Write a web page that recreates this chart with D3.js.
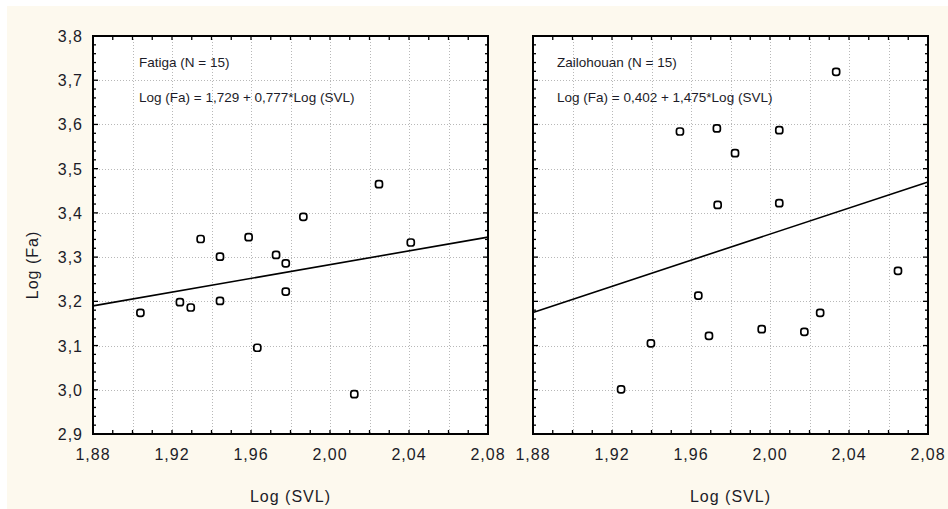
<!DOCTYPE html>
<html>
<head>
<meta charset="utf-8">
<script src="https://cdn.jsdelivr.net/npm/d3@7"></script>
<style>
  body { margin: 0; background: #fff; }
  svg { display: block; }
</style>
</head>
<body>
<script>
// data
var fatigaSVL = [1.904, 1.924, 1.9295, 1.9443, 1.9443, 1.9632, 1.9727, 1.9776, 1.9776, 1.9345, 1.9588, 1.9865, 2.0248, 2.0409, 2.0123];
var fatigaFa  = [3.174, 3.198, 3.186, 3.201, 3.301, 3.095, 3.305, 3.286, 3.222, 3.341, 3.345, 3.391, 3.465, 3.333, 2.990];
var zailSVL = [1.9544, 1.9731, 1.9735, 2.0335, 2.0047, 1.9823, 2.0047, 1.9637, 1.9691, 1.9397, 1.9246, 2.0648, 1.9958, 2.0174, 2.0254];
var zailFa  = [3.584, 3.591, 3.418, 3.719, 3.587, 3.535, 3.422, 3.213, 3.122, 3.105, 3.001, 3.269, 3.137, 3.131, 3.174];
var fatigaFit = [1.729, 0.777]; // intercept, slope
var zailFit = [0.402, 1.475];
var xTicks = [1.88, 1.92, 1.96, 2.00, 2.04, 2.08];
var yTicks = [2.9, 3.0, 3.1, 3.2, 3.3, 3.4, 3.5, 3.6, 3.7, 3.8];

var W = 948, H = 509;
var fmt = function(v){ return v.toFixed(2).replace(".", ","); };
var fmtY = function(v){ return v.toFixed(1).replace(".", ","); };
var ink = "#1c1c28";

var svg = d3.select("body").append("svg")
	.attr("width", W)
	.attr("height", H)
	.style("font-family", "'Liberation Sans', Arial, sans-serif");

svg.append("rect")
	.attr("x", 7).attr("y", 6)
	.attr("width", W - 7).attr("height", H - 6)
	.attr("fill", "#fdf9ee");

var y = d3.scaleLinear().domain([2.9, 3.8]).range([434, 36]);

function panel(x0, x1, xs, ys, fit, title, eq, txtX, showY) {
	var x = d3.scaleLinear().domain([1.88, 2.08]).range([x0, x1]);
	var g = svg.append("g");

	g.append("rect")
		.attr("x", x0).attr("y", 36)
		.attr("width", x1 - x0).attr("height", 434 - 36)
		.attr("fill", "#fff");

	// grid
	var gx = d3.range(1.90, 2.07, 0.02);
	g.selectAll(".gx").data(gx).enter().append("line")
		.attr("x1", d => Math.round(x(d)) + 0.5).attr("x2", d => Math.round(x(d)) + 0.5)
		.attr("y1", 36).attr("y2", 434)
		.attr("stroke", "#b8b8b8").attr("stroke-dasharray", "1,2");
	var gy = d3.range(3.0, 3.75, 0.1);
	g.selectAll(".gy").data(gy).enter().append("line")
		.attr("x1", x0).attr("x2", x1)
		.attr("y1", d => Math.round(y(d)) + 0.5).attr("y2", d => Math.round(y(d)) + 0.5)
		.attr("stroke", "#b8b8b8").attr("stroke-dasharray", "1,2");

	// inward ticks
	var tx = d3.range(1.89, 2.075, 0.01);
	g.selectAll(".tb").data(tx).enter().append("line")
		.attr("x1", d => x(d)).attr("x2", d => x(d))
		.attr("y1", 434).attr("y2", 430)
		.attr("stroke", "#000").attr("stroke-width", 1.3);
	g.selectAll(".tt").data(tx).enter().append("line")
		.attr("x1", d => x(d)).attr("x2", d => x(d))
		.attr("y1", 36).attr("y2", 40)
		.attr("stroke", "#000").attr("stroke-width", 1.3);
	var ty = d3.range(2.92, 3.79, 0.02);
	[x0, x1].forEach(function(xe, k) {
		var dir = k === 0 ? 1 : -1;
		g.selectAll(".ty" + k).data(ty).enter().append("line")
			.attr("x1", xe).attr("x2", d => xe + dir * (Math.abs(d * 10 - Math.round(d * 10)) < 0.01 ? 5 : 3))
			.attr("y1", d => y(d)).attr("y2", d => y(d))
			.attr("stroke", "#000").attr("stroke-width", 1.3);
	});

	// frame
	g.append("rect")
		.attr("x", x0).attr("y", 36)
		.attr("width", x1 - x0).attr("height", 434 - 36)
		.attr("fill", "none").attr("stroke", "#000").attr("stroke-width", 2);

	// regression line
	g.append("line")
		.attr("x1", x(1.88)).attr("y1", y(fit[0] + fit[1] * 1.88))
		.attr("x2", x(2.08)).attr("y2", y(fit[0] + fit[1] * 2.08))
		.attr("stroke", "#000").attr("stroke-width", 1.6);

	// points
	g.selectAll(".pt").data(xs).enter().append("rect")
		.attr("x", (d, i) => x(d) - 3.5)
		.attr("y", (d, i) => y(ys[i]) - 3.5)
		.attr("width", 7).attr("height", 7)
		.attr("rx", 2.5)
		.attr("fill", "#fff").attr("stroke", "#000").attr("stroke-width", 1.7);

	// tick labels
	g.selectAll(".xl").data(xTicks).enter().append("text")
		.attr("x", d => x(d)).attr("y", 460)
		.attr("text-anchor", "middle")
		.attr("font-size", 16).attr("letter-spacing", 1).attr("fill", ink)
		.text(fmt);
	if (showY) {
		g.selectAll(".yl").data(yTicks).enter().append("text")
			.attr("x", x0 - 10).attr("y", d => y(d) + 6)
			.attr("text-anchor", "end")
			.attr("font-size", 16).attr("letter-spacing", 1).attr("fill", ink)
			.text(fmtY);
	}

	g.append("text")
		.attr("x", (x0 + x1) / 2).attr("y", 502)
		.attr("text-anchor", "middle")
		.attr("font-size", 16).attr("letter-spacing", 1).attr("fill", ink)
		.text("Log (SVL)");

	g.append("text")
		.attr("x", txtX).attr("y", 67)
		.attr("font-size", 13.5).attr("fill", ink)
		.text(title);
	g.append("text")
		.attr("x", txtX).attr("y", 102)
		.attr("font-size", 13.5).attr("fill", ink)
		.text(eq);
}

panel(93, 488, fatigaSVL, fatigaFa, fatigaFit, "Fatiga (N = 15)", "Log (Fa) = 1,729 + 0,777*Log (SVL)", 139, true);
panel(533, 928, zailSVL, zailFa, zailFit, "Zailohouan (N = 15)", "Log (Fa) = 0,402 + 1,475*Log (SVL)", 557, false);

svg.append("text")
	.attr("transform", "translate(38,265) rotate(-90)")
	.attr("text-anchor", "middle")
	.attr("font-size", 16).attr("letter-spacing", 1).attr("fill", ink)
	.text("Log (Fa)");
</script>
</body>
</html>
